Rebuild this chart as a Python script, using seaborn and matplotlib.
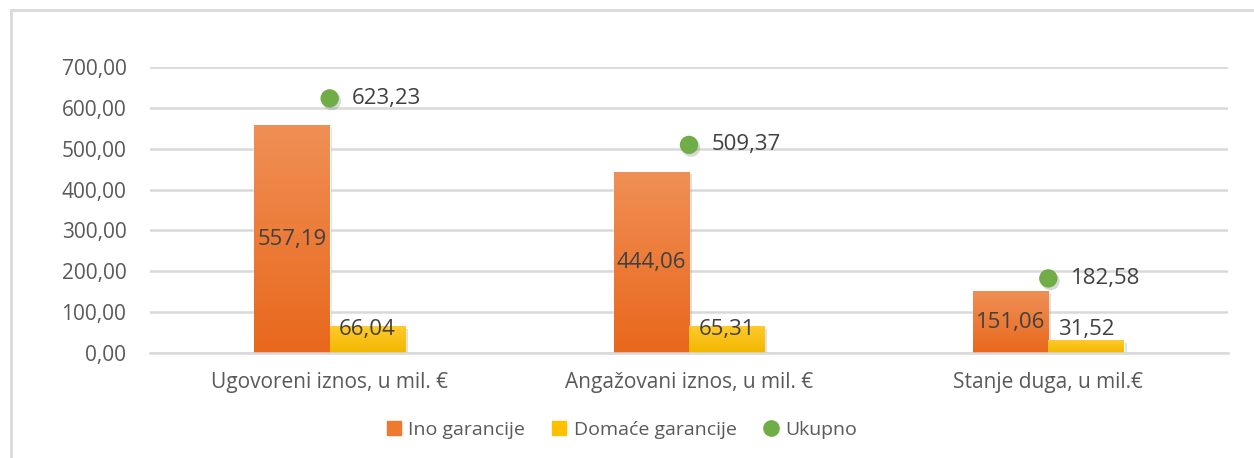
import matplotlib
matplotlib.use("Agg")
import matplotlib.pyplot as plt
import matplotlib.patheffects as pe
from matplotlib.colors import LinearSegmentedColormap
from matplotlib.lines import Line2D
from matplotlib.patches import Rectangle
import numpy as np
import pandas as pd
import seaborn as sns

categories = ["Ugovoreni iznos, u mil. €", "Angažovani iznos, u mil. €", "Stanje duga, u mil.€"]
ino = [557.19, 444.06, 151.06]
domace = [66.04, 65.31, 31.52]
ukupno = [623.23, 509.37, 182.58]
series_names = ["Ino garancije", "Domaće garancije", "Ukupno"]
yticks = [0, 100, 200, 300, 400, 500, 600, 700]

ORANGE = "#EE7A2F"
YELLOW = "#FFC000"
GREEN = "#70AD47"
TXT = "#404040"
# top -> bottom gradients like the office fill
grad = {
    ORANGE: LinearSegmentedColormap.from_list("o", ["#E8681C", "#F08F55"]),
    YELLOW: LinearSegmentedColormap.from_list("y", ["#F2B700", "#FFCA2C"]),
}

sns.set_style("white")
plt.rcParams["font.family"] = ["Open Sans", "DejaVu Sans"]


def fmt(v):
    return f"{v:.2f}".replace(".", ",")


df = pd.DataFrame({
    "kat": categories * 2,
    "vrsta": [series_names[0]] * 3 + [series_names[1]] * 3,
    "iznos": ino + domace,
})

fig = plt.figure(figsize=(12.54, 4.58), dpi=100)
ax = fig.add_axes([150 / 1254, 0.2293, 1078 / 1254, 0.6244])

sns.barplot(data=df, x="kat", y="iznos", hue="vrsta", palette=[ORANGE, YELLOW],
            width=0.42, ax=ax, legend=False, saturation=1)

# gradient fill + soft shadow on the bars
shadow = [pe.SimplePatchShadow(offset=(2, -2), alpha=0.25, shadow_rgbFace="#808080"),
          pe.Normal()]
for p in list(ax.patches):
    fc = matplotlib.colors.to_hex(p.get_facecolor()).upper()
    cmap = grad.get(fc, None)
    p.set_path_effects(shadow)
    if cmap is None or p.get_height() <= 0:
        continue
    x0, w, h = p.get_x(), p.get_width(), p.get_height()
    im = ax.imshow(np.linspace(0, 1, 64).reshape(-1, 1), cmap=cmap, origin="lower",
                   extent=[x0, x0 + w, 0, h], aspect="auto", zorder=p.get_zorder() + 0.1)
    im.set_clip_path(p)
ax.set_ylim(0, 700)
ax.set_xlim(-0.5, len(categories) - 0.5)

x = np.arange(len(categories))
ax.scatter(x, ukupno, s=175, color=GREEN, zorder=5, edgecolor="none",
           path_effects=[pe.SimplePatchShadow(offset=(1.5, -2), alpha=0.3,
                                              shadow_rgbFace="#808080"), pe.Normal()])

# data labels
bw = 0.21
for i in range(len(categories)):
    ax.text(x[i] - bw / 2, ino[i] / 2, fmt(ino[i]), ha="center", va="center",
            fontsize=16, color=TXT, zorder=6)
    ax.text(x[i] + bw / 2, max(domace[i] - 8, 58), fmt(domace[i]), ha="center",
            va="center", fontsize=16, color=TXT, zorder=6)
    ax.annotate(fmt(ukupno[i]), (x[i], ukupno[i]), xytext=(16, 0),
                textcoords="offset points", ha="left", va="center",
                fontsize=16, color=TXT)

ax.set_yticks(yticks)
ax.set_yticklabels([fmt(v) for v in yticks], fontsize=15, color="#595959")
ax.tick_params(axis="x", labelsize=15, labelcolor="#595959", pad=14, length=0)
ax.tick_params(axis="y", pad=17, length=0)
ax.set_xlabel("")
ax.set_ylabel("")
ax.grid(axis="y", color="#D9D9D9", linewidth=1.8)
ax.set_axisbelow(True)
for s in ["top", "right", "left"]:
    ax.spines[s].set_visible(False)
ax.spines["bottom"].set_color("#D9D9D9")
ax.spines["bottom"].set_linewidth(1.8)

handles = [
    Line2D([], [], marker="s", linestyle="none", color=ORANGE, markersize=10),
    Line2D([], [], marker="s", linestyle="none", color=YELLOW, markersize=10),
    Line2D([], [], marker="o", linestyle="none", color=GREEN, markersize=11),
]
fig.legend(handles, series_names, loc="center", bbox_to_anchor=(0.495, 0.062),
           ncol=3, frameon=False, fontsize=14, handletextpad=0.25,
           handlelength=1.0, columnspacing=1.25, labelcolor="#595959")

# chart area border
fig.patches.append(Rectangle((11 / 1254, -0.1), 1.2, 1 - 10 / 458 + 0.1,
                             transform=fig.transFigure, fill=False,
                             edgecolor="#D9D9D9", linewidth=2))

fig.savefig("out.png", dpi=100)
